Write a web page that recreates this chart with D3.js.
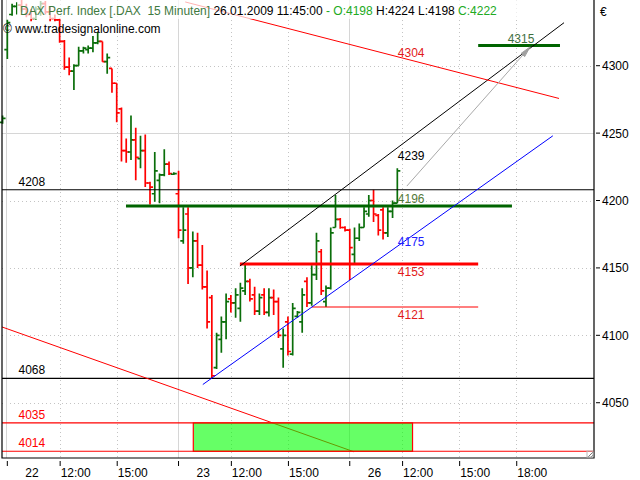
<!DOCTYPE html>
<html><head><meta charset="utf-8">
<script src="https://cdn.jsdelivr.net/npm/d3@7"></script>
<style>
body{margin:0;background:#fff}
svg{display:block}
text{font-family:"Liberation Sans",Arial,sans-serif;font-size:12px;white-space:pre}
</style>
</head><body>
<svg id="c" width="640" height="480"></svg>
<script>
// ---------- DATA ----------
// 15-minute OHLC bars, index 0 = last bar of 21.01, then 22.01 (1..36), 23.01 (37..72), 26.01 (73..83)
const opens  = [4258,4312,4338,4344,4345,4342,4338,4335,4342,4346,4340,4335,4334,4318,4299,4296,4300,4311,4312,4313,4317,4318,4303,4298,4287,4268,4237,4236,4245,4231,4237,4213,4205,4215,4219,4227,4219.5,
                4205,4170,4190,4150,4170,4152,4136,4128,4076,4097,4110,4127,4124,4120,4133,4140,4130,4118,4130,4117,4128,4125,4090,4110,4086,4114,4110,4140,4124,4145,4162,4125,4135,4180,4186,4180,
                4178,4160,4172,4180,4190,4200,4189,4193,4176,4192,4198];
const highs  = [4263,4334,4346,4347,4349,4346,4342,4344,4348,4348,4344,4338,4335,4319,4306,4301,4314,4314,4315,4322,4325,4318,4309,4298,4287,4269,4246,4263,4254,4248,4249,4214,4236,4220,4238,4229,4221,
                4222,4195,4195,4177,4176,4167,4148,4130,4102,4114,4131,4130,4135,4139,4153,4142,4136,4131,4135,4135,4134,4128,4105,4114,4124,4118,4135,4143,4152,4176,4164,4137,4180,4204,4187,4181,
                4179,4180,4183,4195,4204,4208,4190,4195,4195,4200,4224];
const lows   = [4257,4305,4337,4338,4340,4336,4333,4334,4337,4338,4333,4333,4317,4297,4293,4282,4300,4309,4309,4310,4316,4303,4294,4280,4258,4229,4228,4230,4215,4224,4210,4197,4199,4198,4218,4219,4219,
                4172,4168,4138,4143,4150,4134,4105,4068,4075,4087,4097,4117,4113,4110,4130,4125,4115,4115,4115,4114,4115,4098,4076,4085,4085,4113,4102,4121,4122,4141,4130,4121,4134,4180,4179,4177,
                4141,4153,4170,4180,4188,4184,4174,4171,4173,4187,4198];
const closes = [4261,4332,4344,4345,4342,4338,4335,4342,4346,4340,4335,4334,4318,4299,4296,4300,4311,4313,4313,4317,4318,4303,4306,4287,4265,4237,4236,4245,4232,4237,4213,4210,4222,4219,4227,4220,4220,
                4178,4178,4150,4170,4152,4136,4110,4070,4100,4110,4125,4124,4130,4135,4140,4127,4118,4128,4117,4128,4125,4100,4100,4088,4120,4117,4130,4124,4145,4170,4133,4135,4176,4186,4180,4178,
                4165,4172,4180,4192,4200,4190,4178,4176,4192,4198,4222];

const priceTicks = [4050,4100,4150,4200,4250,4300];
const majorPriceTicks = [4250];
const dayTickIdx = [1,37,73];
const dayTickLabels = ["22","23","26"];
const timeTickIdx = [12,24,48,60,84,96,108];
const timeTickLabels = ["12:00","15:00","12:00","15:00","12:00","15:00","18:00"];

// full-width horizontal levels
const fullLevels = [4208,4068,4035,4014];
// partial horizontal levels
const partLevels = [4196,4153,4121,4315];
const partFrom   = [25.95,49.9,65,100];
const partTo     = [107.1,100,100,117.2];
// right side labels
const rightLabels = [4304,4239,4196,4175,4153,4121];
// trend lines [index, value]
const trendBlack     = [[49.9,4151.4],[118.05,4331.9]];
const trendBlue      = [[42.1,4063.5],[115.7,4248.0]];
const trendRedTop    = [[38.4,4347.3],[117.0,4275.7]];
const trendRedBottom = [[-0.12,4106.2],[73.9,4013.6]];
const arrowPts       = [[85.0,4210.7],[110.9,4313.9]];
const zoneIdx  = [40.1,86.2];
const zoneVals = [4035,4014];

const headerParts = ["DAX Perf. Index [.DAX  15 Minuten]"," 26.01.2009 11:45:00"," - O:4198"," H:4224 L:4198"," C:4222"];
const copyright = "© www.tradesignalonline.com";

// ---------- DRAW ----------
const svg = d3.select("#c");
const L=2, R=594, T=0, B=458;
const x = d3.scaleLinear().domain([0,124.3]).range([2.57,593.75]);
const y = d3.scaleLinear().domain([4009,4348.74]).range([B,0]);
const GREEN="#0a6e0a", RED="#ff0000";

const g = svg.append("g");
// grid
g.selectAll(".hg").data(priceTicks).join("line")
  .attr("x1",L).attr("x2",R).attr("y1",d=>Math.round(y(d))+0.5).attr("y2",d=>Math.round(y(d))+0.5)
  .attr("stroke",d=>majorPriceTicks.includes(d)?"#d6d6d6":"#c4c4c4")
  .attr("stroke-dasharray",d=>majorPriceTicks.includes(d)?null:"1,3");
g.selectAll(".vd").data(dayTickIdx).join("line")
  .attr("x1",d=>Math.round(x(d))-0.5).attr("x2",d=>Math.round(x(d))-0.5).attr("y1",T).attr("y2",B)
  .attr("stroke","#d6d6d6");
g.selectAll(".vt").data(timeTickIdx).join("line")
  .attr("x1",d=>Math.round(x(d))+0.5).attr("x2",d=>Math.round(x(d))+0.5).attr("y1",T).attr("y2",B)
  .attr("stroke","#c4c4c4").attr("stroke-dasharray","1,3");

// bars
const bars = d3.range(opens.length).map(i=>({i,o:opens[i],h:highs[i],l:lows[i],c:closes[i]}));
const bg = g.append("g").attr("stroke-width",1.7).attr("fill","none");
bars.forEach(d=>{
  const cx = x(d.i), col = d.c>=d.o?GREEN:RED;
  bg.append("path")
    .attr("d",`M${cx},${y(d.h)}V${y(d.l)}M${cx-3},${y(d.o)}H${cx}M${cx},${y(d.c)}H${cx+3}`)
    .attr("stroke",col);
});

// full levels
const fullColor = {4208:"#000",4068:"#000",4035:RED,4014:RED};
g.selectAll(".fl").data(fullLevels).join("line")
  .attr("x1",L).attr("x2",R).attr("y1",d=>y(d)).attr("y2",d=>y(d))
  .attr("stroke",d=>fullColor[d]).attr("stroke-width",1.2);
g.selectAll(".flt").data(fullLevels).join("text")
  .attr("x",18.5).attr("y",d=>y(d)-4).attr("fill",d=>fullColor[d]).text(d=>d);

// partial levels
const partColor = {4196:"#006400",4153:RED,4121:RED,4315:"#006400"};
const partWidth = {4196:3,4153:3,4121:1.2,4315:3};
g.selectAll(".pl").data(partLevels).join("line")
  .attr("x1",(d,k)=>x(partFrom[k])).attr("x2",(d,k)=>x(partTo[k]))
  .attr("y1",d=>y(d)).attr("y2",d=>y(d))
  .attr("stroke",d=>partColor[d]).attr("stroke-width",d=>partWidth[d]);

// trend lines
const line = d3.line().x(d=>x(d[0])).y(d=>y(d[1]));
g.append("path").attr("d",line(trendBlack)).attr("stroke","#000").attr("fill","none");
g.append("path").attr("d",line(trendBlue)).attr("stroke","#0000ff").attr("fill","none");
g.append("path").attr("d",line(trendRedTop)).attr("stroke",RED).attr("fill","none");
g.append("path").attr("d",line(trendRedBottom)).attr("stroke",RED).attr("fill","none");
// arrow
g.append("path").attr("d",line(arrowPts)).attr("stroke","#a8a8a8").attr("fill","none");
{
  const [p0,p1]=arrowPts.map(p=>[x(p[0]),y(p[1])]);
  const ang=Math.atan2(p1[1]-p0[1],p1[0]-p0[0]), len=11, sp=0.22;
  const a=[p1[0]-len*Math.cos(ang-sp),p1[1]-len*Math.sin(ang-sp)];
  const b=[p1[0]-len*Math.cos(ang+sp),p1[1]-len*Math.sin(ang+sp)];
  g.append("path").attr("d",`M${p1[0]},${p1[1]}L${a[0]},${a[1]}L${b[0]},${b[1]}Z`)
    .attr("fill","#a0a0a0").attr("stroke","#a0a0a0");
}
// zone box
g.append("rect")
  .attr("x",x(zoneIdx[0])).attr("width",x(zoneIdx[1])-x(zoneIdx[0]))
  .attr("y",y(zoneVals[0])).attr("height",y(zoneVals[1])-y(zoneVals[0]))
  .attr("fill","#00ff00").attr("fill-opacity",0.6).attr("stroke",RED).attr("stroke-width",1.2);

// right labels
const rlColor = {4304:"#e21a1a",4239:"#000",4196:"#557a3a",4175:"#2020ff",4153:"#e21a1a",4121:"#e21a1a"};
const rlBelow = {4304:false,4239:true,4196:false,4175:true,4153:true,4121:true};
g.selectAll(".rl").data(rightLabels).join("text")
  .attr("x",x(83)+0.5).attr("y",d=>rlBelow[d]?y(d)+12:y(d)-3)
  .attr("fill",d=>rlColor[d]).text(d=>d);
g.append("text").attr("x",x(100)+29.5).attr("y",y(4315)-2.5).attr("fill","#3f6f3f").text(4315);

// header
svg.append("rect").attr("x",17).attr("y",0).attr("width",524).attr("height",19).attr("fill","#fff").attr("fill-opacity",0.7);
const hcol = ["#3f7a3f","#000","#22aa22","#000","#22aa22"];
const ht = svg.append("text").attr("x",20).attr("y",15);
headerParts.forEach((s,k)=>ht.append("tspan").attr("fill",hcol[k]).text(s));
svg.append("text").attr("x",3).attr("y",33).attr("fill","#000").text(copyright);

// frame
svg.append("path").attr("d",`M${L},${T}V${B}H${R}V${T}`).attr("fill","none").attr("stroke","#000").attr("stroke-width",1.2);
svg.append("path").attr("d",`M${R-6},${B-1}L${R-1},${B-6}M${R-3},${B-1}L${R-1},${B-3}`).attr("stroke","#777").attr("fill","none");
svg.append("rect").attr("x",R-7).attr("y",B-7).attr("width",6).attr("height",6).attr("fill","none").attr("stroke","#bbb");

// right axis
const ax = svg.append("g");
ax.selectAll("line").data(priceTicks).join("line")
  .attr("x1",R+2).attr("x2",R+6).attr("y1",d=>y(d)).attr("y2",d=>y(d)).attr("stroke","#000");
ax.selectAll("text").data(priceTicks).join("text")
  .attr("x",R+8).attr("y",d=>y(d)+4.5).attr("fill","#000").text(d=>d);
svg.append("text").attr("x",R+6).attr("y",16).text("€");

// bottom axis
const bx = svg.append("g");
bx.selectAll(".dt").data(dayTickIdx).join("line")
  .attr("x1",d=>x(d)).attr("x2",d=>x(d)).attr("y1",B+3).attr("y2",B+8).attr("stroke","#000");
bx.selectAll(".tt").data(timeTickIdx).join("line")
  .attr("x1",d=>x(d)+0.5).attr("x2",d=>x(d)+0.5).attr("y1",B+3).attr("y2",B+8).attr("stroke","#000");
bx.selectAll(".dl").data(dayTickIdx).join("text")
  .attr("x",d=>x(d)+18).attr("y",B+19).text((d,k)=>dayTickLabels[k]);
bx.selectAll(".tl").data(timeTickIdx).join("text")
  .attr("x",d=>x(d)+1).attr("y",B+19).text((d,k)=>timeTickLabels[k]);
</script>
</body></html>
